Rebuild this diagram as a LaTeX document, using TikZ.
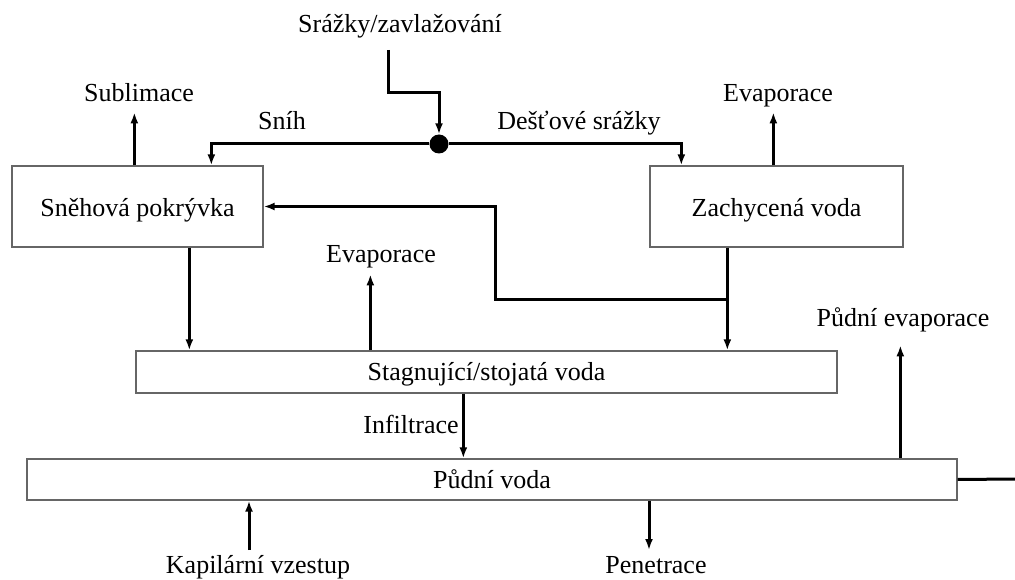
\documentclass[tikz,border=0pt]{standalone}
\usepackage{fontspec}
\setmainfont{Liberation Serif}
\usetikzlibrary{arrows.meta,calc}

\tikzset{
  flow/.style={line width=3pt},
  arr/.style={flow,-{Latex[length=11pt,width=8pt]}},
  box/.style={draw=black!60,line width=1.3pt,fill=white,rectangle,inner sep=0pt,
              font=\fontsize{26}{31}\selectfont,text depth=0pt},
  lab/.style={inner sep=0pt,anchor=base,font=\fontsize{26}{31}\selectfont,
              text depth=0pt,text height=16pt},
}

\begin{document}
\begin{tikzpicture}[x=1pt,y=-1pt]
\fill[white] (0,0) rectangle (1015,580);
\useasboundingbox (0,0) rectangle (1015,580);

% storages
\node[box,minimum width=251pt,minimum height=81pt,text height=21pt] (snow) at (137.5,206.5) {Sněhová pokrývka};
\node[box,minimum width=253pt,minimum height=81pt,text height=21pt] (inter) at (776.5,206.5) {Zachycená voda};
\node[box,minimum width=701pt,minimum height=42pt,text height=16pt] (stag) at (486.5,372) {Stagnující/stojatá voda};
\node[box,minimum width=930pt,minimum height=41pt,text height=17pt] (soil) at (492,479.5) {Půdní voda};

% junction of the precipitation input
\node[circle,fill=black,inner sep=0pt,minimum size=19pt] (jn) at (439,144) {};

% labels of the fluxes
\node[lab] (rain) at (400,33) {Srážky/zavlažování};
\node[lab] (sub) at (139,102) {Sublimace};
\node[lab] (snowfall) at (282,130) {Sníh};
\node[lab] (rainfall) at (579,130) {Dešťové srážky};
\node[lab] (evtop) at (778,102) {Evaporace};
\node[lab] (evmid) at (381,262) {Evaporace};
\node[lab] (infl) at (411,433) {Infiltrace};
\node[lab] (soilev) at (903,326) {Půdní evaporace};
\node[lab] (capil) at (258,573) {Kapilární vzestup};
\node[lab] (pen) at (656,573) {Penetrace};

% routing points
\coordinate (rs) at (388,50);
\coordinate (bend) at (388,93);
\coordinate (loop) at (495,299);
\coordinate (edge) at (1015,479);
\coordinate (capfoot) at (249,550);
\coordinate (penfoot) at (649,550);

% precipitation split into snow and rain
\draw[arr] (rs) -- (bend) -| (jn.north);
\draw[arr] (jn) -| ($(snow.north west)+(200,0)$);
\draw[arr] (jn) -| ($(inter.north west)+(32,0)$);

% losses to the atmosphere
\draw[arr] ($(snow.north west)+(123,0)$) -- ++(0,-53);
\draw[arr] ($(inter.north west)+(124,0)$) -- ++(0,-53);
\draw[arr] ($(stag.north west)+(235,0)$) -- ++(0,-76);
\draw[arr] ($(soil.north west)+(874,0)$) -- ++(0,-113);

% drainage towards the stagnant water
\draw[arr] ($(snow.south west)+(178,0)$) -- ($(stag.north west)+(54,0)$);
\draw[arr] ($(inter.south west)+(78,0)$) -- ($(stag.north west)+(592,0)$);
\draw[arr] (loop -| inter.south west) ++(78,0) -- (loop) |- (snow.east);

% soil water exchange
\draw[arr] ($(stag.south west)+(328,0)$) -- ($(soil.north west)+(437,0)$);
\draw[flow] (soil.east) -- (edge);
\draw[arr] (capfoot) -- (capfoot |- soil.south);
\draw[arr] (penfoot |- soil.south) -- (penfoot);
\end{tikzpicture}
\end{document}
